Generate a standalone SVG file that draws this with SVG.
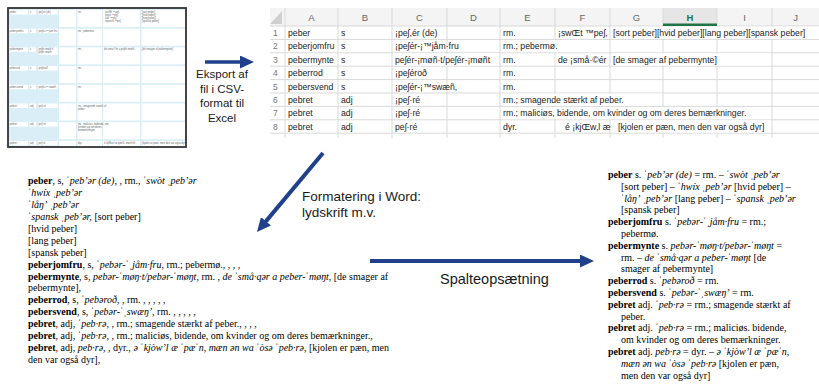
<svg xmlns="http://www.w3.org/2000/svg" width="819" height="387" viewBox="0 0 819 387">
<style>
.sans{font-family:"Liberation Sans",Arial,sans-serif}
.lbl{font-family:"Liberation Sans",Arial,sans-serif;fill:#1a1a1a}
.ser{font-family:"Liberation Serif","Times New Roman","DejaVu Serif",serif;font-size:10px;fill:#000}
.b{font-weight:bold}
.i{font-style:italic}
.cell{font-family:"Liberation Sans",Arial,sans-serif;font-size:8.7px;fill:#222}
.hdr{font-family:"Liberation Sans",Arial,sans-serif;font-size:9.5px;fill:#666;text-anchor:middle}
.rn{font-family:"Liberation Sans",Arial,sans-serif;font-size:8.5px;fill:#777}
.grid{stroke:#d9d9d9;stroke-width:1;fill:none}
.tiny{font-family:"Liberation Sans",Arial,sans-serif;font-size:2.6px;fill:#666}
.wb{fill:#fff}
.conn{stroke:#20408c;fill:none;marker-end:url(#ah)}
</style>
<defs>
<marker id="ah" viewBox="0 0 14 13" markerUnits="userSpaceOnUse" markerWidth="14" markerHeight="13" refX="3" refY="6.5" orient="auto">
<path d="M0,0 L14,6.5 L0,13 z" fill="#20408c"/>
</marker>
</defs>
<rect width="819" height="387" fill="#fff"/>

<!-- Thumbnail of the Word table -->
<g id="thumbnail">
<rect x="8" y="8" width="178" height="139" fill="#d9eef6" stroke="#3a3a3a" stroke-width="1.5"/>
<g id="thumb-cells">
<!-- row tops: 10, 28.7, 47.4, 66.1, 84.8, 103.5, 122.2, 140.9 -->
<g transform="translate(0,10)">
<rect class="wb" x="9" y="0" width="19" height="4.5"/><rect class="wb" x="29.5" y="0" width="6.5" height="4.5"/><rect class="wb" x="38" y="0" width="19.5" height="4.5"/>
<rect class="wb" x="59" y="0" width="17" height="17"/><rect class="wb" x="77.5" y="0" width="24.5" height="17"/><rect class="wb" x="103" y="0" width="37" height="17"/><rect class="wb" x="141.5" y="0" width="43.5" height="17"/>
<text class="tiny" x="9.5" y="3">peber</text><text class="tiny" x="30" y="3">s</text><text class="tiny" x="38.5" y="3">ipeʃ,ér (de)</text><text class="tiny" x="78" y="3">rm.</text>
<text class="tiny" x="105" y="3">iswŒt ™peʃ,</text><text class="tiny" x="105" y="6">ihwíx ™peʃ,</text><text class="tiny" x="105" y="9">ilåñ' ™peʃ,</text><text class="tiny" x="105" y="12">ispansk ™peʃ,</text>
<text class="tiny" x="142" y="3">[sort peber]</text><text class="tiny" x="142" y="6">[hvid peber]</text><text class="tiny" x="142" y="9">[lang peber]</text><text class="tiny" x="142" y="12">[spansk peber]</text>
</g>
<g transform="translate(0,28.7)">
<rect class="wb" x="9" y="0" width="19" height="4.5"/><rect class="wb" x="29.5" y="0" width="6.5" height="4.5"/><rect class="wb" x="38" y="0" width="19.5" height="4.5"/>
<rect class="wb" x="59" y="0" width="17" height="17"/><rect class="wb" x="77.5" y="0" width="24.5" height="17"/><rect class="wb" x="103" y="0" width="37" height="17"/><rect class="wb" x="141.5" y="0" width="43.5" height="17"/>
<text class="tiny" x="9.5" y="3">peberjomfru</text><text class="tiny" x="30" y="3">s</text><text class="tiny" x="38.5" y="3">ipeʃér-i™jåm·fru</text><text class="tiny" x="78" y="3">rm.; pebermø.</text>
</g>
<g transform="translate(0,47.4)">
<rect class="wb" x="9" y="0" width="19" height="4.5"/><rect class="wb" x="29.5" y="0" width="6.5" height="4.5"/><rect class="wb" x="38" y="0" width="19.5" height="7.5"/>
<rect class="wb" x="59" y="0" width="17" height="17"/><rect class="wb" x="77.5" y="0" width="24.5" height="17"/><rect class="wb" x="103" y="0" width="37" height="17"/><rect class="wb" x="141.5" y="0" width="43.5" height="17"/>
<text class="tiny" x="9.5" y="3">pebermynte</text><text class="tiny" x="30" y="3">s</text><text class="tiny" x="38.5" y="3">peʃér-imøñ·t/</text><text class="tiny" x="38.5" y="6">peʃér-imøñt</text><text class="tiny" x="78" y="3">rm.</text>
<text class="tiny" x="104" y="3">de ismå·©ér a peʃér-imøñt</text><text class="tiny" x="142" y="3">[de smager af pebermynte]</text>
</g>
<g transform="translate(0,66.1)">
<rect class="wb" x="9" y="0" width="19" height="4.5"/><rect class="wb" x="29.5" y="0" width="6.5" height="4.5"/><rect class="wb" x="38" y="0" width="19.5" height="4.5"/>
<rect class="wb" x="59" y="0" width="17" height="17"/><rect class="wb" x="77.5" y="0" width="24.5" height="17"/><rect class="wb" x="103" y="0" width="37" height="17"/><rect class="wb" x="141.5" y="0" width="43.5" height="17"/>
<text class="tiny" x="9.5" y="3">peberrod</text><text class="tiny" x="30" y="3">s</text><text class="tiny" x="38.5" y="3">ipeʃéroð</text><text class="tiny" x="78" y="3">rm.</text>
</g>
<g transform="translate(0,84.8)">
<rect class="wb" x="9" y="0" width="19" height="4.5"/><rect class="wb" x="29.5" y="0" width="6.5" height="4.5"/><rect class="wb" x="38" y="0" width="19.5" height="4.5"/>
<rect class="wb" x="59" y="0" width="17" height="17"/><rect class="wb" x="77.5" y="0" width="24.5" height="17"/><rect class="wb" x="103" y="0" width="37" height="17"/><rect class="wb" x="141.5" y="0" width="43.5" height="17"/>
<text class="tiny" x="9.5" y="3">pebersvend</text><text class="tiny" x="30" y="3">s</text><text class="tiny" x="38.5" y="3">ipeʃér-i™swæñ,</text><text class="tiny" x="78" y="3">rm.</text>
</g>
<g transform="translate(0,103.5)">
<rect class="wb" x="9" y="0" width="19" height="4.5"/><rect class="wb" x="29.5" y="0" width="6.5" height="4.5"/><rect class="wb" x="38" y="0" width="19.5" height="4.5"/>
<rect class="wb" x="59" y="0" width="17" height="17"/><rect class="wb" x="77.5" y="0" width="24.5" height="17"/><rect class="wb" x="103" y="0" width="37" height="17"/><rect class="wb" x="141.5" y="0" width="43.5" height="17"/>
<text class="tiny" x="9.5" y="3">pebret</text><text class="tiny" x="30" y="3">adj</text><text class="tiny" x="38.5" y="3">ipeʃ·ré</text><text class="tiny" x="78" y="3">rm.; smagende stærkt af</text><text class="tiny" x="78" y="6">peber.</text>
</g>
<g transform="translate(0,122.2)">
<rect class="wb" x="9" y="0" width="19" height="4.5"/><rect class="wb" x="29.5" y="0" width="6.5" height="4.5"/><rect class="wb" x="38" y="0" width="19.5" height="4.5"/>
<rect class="wb" x="59" y="0" width="17" height="17"/><rect class="wb" x="77.5" y="0" width="24.5" height="17"/><rect class="wb" x="103" y="0" width="37" height="17"/><rect class="wb" x="141.5" y="0" width="43.5" height="17"/>
<text class="tiny" x="9.5" y="3">pebret</text><text class="tiny" x="30" y="3">adj</text><text class="tiny" x="38.5" y="3">ipeʃ·ré</text><text class="tiny" x="78" y="3">rm.; maliciøs, bidende, om</text><text class="tiny" x="78" y="6">kvinder og om deres</text><text class="tiny" x="78" y="9">bemærkninger.</text>
</g>
<g transform="translate(0,140.9)">
<rect class="wb" x="9" y="0" width="19" height="4.5"/><rect class="wb" x="29.5" y="0" width="6.5" height="4.5"/><rect class="wb" x="38" y="0" width="19.5" height="4.5"/>
<rect class="wb" x="59" y="0" width="17" height="5.3"/><rect class="wb" x="77.5" y="0" width="24.5" height="5.3"/><rect class="wb" x="103" y="0" width="37" height="5.3"/><rect class="wb" x="141.5" y="0" width="43.5" height="5.3"/>
<text class="tiny" x="9.5" y="3">pebret</text><text class="tiny" x="30" y="3">adj</text><text class="tiny" x="38.5" y="3">peʃ·ré</text><text class="tiny" x="78" y="3">dyr.</text>
<text class="tiny" x="104" y="3">é ikjŒw,l æ ipæ'ñ, mæñ éñ</text><text class="tiny" x="142" y="3">[kjolen er pæn, men den var også dyr]</text>
</g>
</g>
<rect x="8" y="8" width="178" height="139" fill="none" stroke="#3a3a3a" stroke-width="1.5"/>
</g>

<!-- Spreadsheet -->
<g id="spreadsheet">
<rect x="270" y="8" width="549" height="18" fill="#f4f4f4"/>
<rect x="663" y="8" width="54" height="18" fill="#e6e6e6"/>
<polygon points="282,11 282,24 270,24" fill="#d0d0d0"/>
<g class="grid">
<path d="M270,26 H819 M270,39.4 H819 M270,52.8 H819 M270,66.2 H819 M270,79.6 H819 M270,93 H819 M270,106.4 H819 M270,119.8 H819 M270,133.2 H819"/>
<path d="M285,8 V138 M338,8 V138 M392,8 V138 M447,8 V138 M500,8 V138 M555,8 V138 M610,8 V138 M663,8 V138 M717,8 V138 M772,8 V138"/>
</g>
<rect x="663" y="23.5" width="54" height="2.5" fill="#217346"/>
<g id="overflow-masks" fill="#fff">
<rect x="611" y="26.6" width="208" height="12.2"/>
<rect x="501" y="40" width="108" height="12.2"/>
<rect x="393" y="53.4" width="106" height="12.2"/>
<rect x="611" y="53.4" width="160" height="12.2"/>
<rect x="501" y="93.6" width="161" height="12.2"/>
<rect x="501" y="107" width="270" height="12.2"/>
<rect x="611" y="120.4" width="160" height="12.2"/>
</g>
<g id="col-headers">
<text class="hdr" x="311.5" y="20.5">A</text>
<text class="hdr" x="365" y="20.5">B</text>
<text class="hdr" x="419.5" y="20.5">C</text>
<text class="hdr" x="473.5" y="20.5">D</text>
<text class="hdr" x="527.5" y="20.5">E</text>
<text class="hdr" x="582.5" y="20.5">F</text>
<text class="hdr" x="636.5" y="20.5">G</text>
<text class="hdr" x="690" y="20.5" style="fill:#217346;font-weight:bold">H</text>
<text class="hdr" x="744.5" y="20.5">I</text>
<text class="hdr" x="795.5" y="20.5">J</text>
</g>
<g id="row-numbers">
<text class="rn" x="273" y="36">1</text>
<text class="rn" x="273" y="49.4">2</text>
<text class="rn" x="273" y="62.8">3</text>
<text class="rn" x="273" y="76.2">4</text>
<text class="rn" x="273" y="89.6">5</text>
<text class="rn" x="273" y="103">6</text>
<text class="rn" x="273" y="116.4">7</text>
<text class="rn" x="273" y="129.8">8</text>
</g>
<g id="cells">
<text class="cell" x="288" y="36">peber</text><text class="cell" x="341" y="36">s</text><text class="cell" x="395" y="36">¡peʃ,ér (de)</text><text class="cell" x="503" y="36">rm.</text><text class="cell" x="558" y="36">¡swŒt ™peʃ,</text><text class="cell" x="613" y="36">[sort peber][hvid peber][lang peber][spansk peber]</text>
<text class="cell" x="288" y="49.4">peberjomfru</text><text class="cell" x="341" y="49.4">s</text><text class="cell" x="395" y="49.4">¡peʃér-¡™jåm·fru</text><text class="cell" x="503" y="49.4">rm.; pebermø.</text>
<text class="cell" x="288" y="62.8">pebermynte</text><text class="cell" x="341" y="62.8">s</text><text class="cell" x="395" y="62.8">peʃér-¡møñ·t/peʃér-¡møñt</text><text class="cell" x="503" y="62.8">rm.</text><text class="cell" x="558" y="62.8">de ¡små·©ér</text><text class="cell" x="613" y="62.8">[de smager af pebermynte]</text>
<text class="cell" x="288" y="76.2">peberrod</text><text class="cell" x="341" y="76.2">s</text><text class="cell" x="395" y="76.2">¡peʃéroð</text><text class="cell" x="503" y="76.2">rm.</text>
<text class="cell" x="288" y="89.6">pebersvend</text><text class="cell" x="341" y="89.6">s</text><text class="cell" x="395" y="89.6">¡peʃér-¡™swæñ,</text><text class="cell" x="503" y="89.6">rm.</text>
<text class="cell" x="288" y="103">pebret</text><text class="cell" x="341" y="103">adj</text><text class="cell" x="395" y="103">¡peʃ·ré</text><text class="cell" x="503" y="103">rm.; smagende stærkt af peber.</text>
<text class="cell" x="288" y="116.4">pebret</text><text class="cell" x="341" y="116.4">adj</text><text class="cell" x="395" y="116.4">¡peʃ·ré</text><text class="cell" x="503" y="116.4">rm.; maliciøs, bidende, om kvinder og om deres bemærkninger.</text>
<text class="cell" x="288" y="129.8">pebret</text><text class="cell" x="341" y="129.8">adj</text><text class="cell" x="395" y="129.8">peʃ·ré</text><text class="cell" x="503" y="129.8">dyr.</text><text class="cell" x="565" y="129.8">é ¡kjŒw,l æ</text><text class="cell" x="618" y="129.8">[kjolen er pæn, men den var også dyr]</text>
</g>
</g>

<!-- Word formatted text -->
<g id="word-text">
<text class="ser" x="28" y="184"><tspan class="b">peber</tspan>, s, <tspan class="i">ˈpebʼər (de)</tspan>, , rm., <tspan class="i">ˈswòt ˌpebʼər</tspan></text>
<text class="ser i" x="28" y="195.9">ˈhwíx ˌpebʼər</text>
<text class="ser i" x="28" y="207.9">ˈlåŋʼ ˌpebʼər</text>
<text class="ser" x="28" y="219.8"><tspan class="i">ˈspansk ˌpebʼər,</tspan> [sort peber]</text>
<text class="ser" x="28" y="231.7">[hvid peber]</text>
<text class="ser" x="28" y="243.7">[lang peber]</text>
<text class="ser" x="28" y="255.6">[spansk peber]</text>
<text class="ser" x="28" y="267.5"><tspan class="b">peberjomfru</tspan>, s, <tspan class="i">ˈpebər-ˈˌjåm·fru</tspan>, rm.; pebermø., , , ,</text>
<text class="ser" x="28" y="279.5"><tspan class="b">pebermynte</tspan>, s, <tspan class="i">pebər-ˈmøŋ·t/pebər-ˈmøŋt</tspan>, rm. , <tspan class="i">de ˈsmå·qər a peber-ˈmøŋt</tspan>, [de smager af</text>
<text class="ser" x="28" y="291.4">pebermynte],</text>
<text class="ser" x="28" y="303.3"><tspan class="b">peberrod</tspan>, s, <tspan class="i">ˈpebəroð</tspan>, , rm. , , , , ,</text>
<text class="ser" x="28" y="315.3"><tspan class="b">pebersvend</tspan>, s, <tspan class="i">ˈpebər-ˈˌswæŋʼ</tspan>, rm. , , , , ,</text>
<text class="ser" x="28" y="327.2"><tspan class="b">pebret</tspan>, adj, <tspan class="i">ˈpeb·rə</tspan>, , rm.; smagende stærkt af peber., , , ,</text>
<text class="ser" x="28" y="339.1"><tspan class="b">pebret</tspan>, adj, <tspan class="i">ˈpeb·rə</tspan>, , rm.; maliciøs, bidende, om kvinder og om deres bemærkninger.,</text>
<text class="ser" x="28" y="351.1"><tspan class="b">pebret</tspan>, adj, <tspan class="i">peb·rə</tspan>, , dyr., <tspan class="i">ə ˈkjòwʼl æ ˈpæˈn, mæn ən wa ˈòsə ˈpeb·rə</tspan>, [kjolen er pæn, men</text>
<text class="ser" x="28" y="363">den var også dyr],</text>
</g>

<!-- Column layout text -->
<g id="column-text">
<text class="ser" x="608" y="178"><tspan class="b">peber</tspan> s. <tspan class="i">ˈpebʼər (de)</tspan> = rm. – <tspan class="i">ˈswòt ˌpebʼər</tspan></text>
<text class="ser" x="621" y="189.8">[sort peber] – <tspan class="i">ˈhwíx ˌpebʼər</tspan> [hvid peber] –</text>
<text class="ser" x="621" y="201.6"><tspan class="i">ˈlåŋʼ ˌpebʼər</tspan> [lang peber] – <tspan class="i">ˈspansk ˌpebʼər</tspan></text>
<text class="ser" x="621" y="213.4">[spansk peber]</text>
<text class="ser" x="608" y="225.2"><tspan class="b">peberjomfru</tspan> s. <tspan class="i">ˈpebər-ˈˌjåm·fru</tspan> = rm.;</text>
<text class="ser" x="621" y="237">pebermø.</text>
<text class="ser" x="608" y="248.8"><tspan class="b">pebermynte</tspan> s. <tspan class="i">pebər-ˈmøŋ·t/pebər-ˈmøŋt</tspan> =</text>
<text class="ser" x="621" y="260.6">rm. – <tspan class="i">de ˈsmå·qər a peber-ˈmøŋt</tspan> [de</text>
<text class="ser" x="621" y="272.4">smager af pebermynte]</text>
<text class="ser" x="608" y="284.2"><tspan class="b">peberrod</tspan> s. <tspan class="i">ˈpebəroð</tspan> = rm.</text>
<text class="ser" x="608" y="296"><tspan class="b">pebersvend</tspan> s. <tspan class="i">ˈpebər-ˈˌswæŋʼ</tspan> = rm.</text>
<text class="ser" x="608" y="307.8"><tspan class="b">pebret</tspan> adj. <tspan class="i">ˈpeb·rə</tspan> = rm.; smagende stærkt af</text>
<text class="ser" x="621" y="319.6">peber.</text>
<text class="ser" x="608" y="331.4"><tspan class="b">pebret</tspan> adj. <tspan class="i">ˈpeb·rə</tspan> = rm.; maliciøs. bidende,</text>
<text class="ser" x="621" y="343.2">om kvinder og om deres bemærkninger.</text>
<text class="ser" x="608" y="355"><tspan class="b">pebret</tspan> adj. <tspan class="i">peb·rə</tspan> = dyr. – <tspan class="i">ə ˈkjòwʼl æ ˈpæˈn,</tspan></text>
<text class="ser" x="621" y="366.8"><tspan class="i">mæn ən wa ˈòsə ˈpeb·rə</tspan> [kjolen er pæn,</text>
<text class="ser" x="621" y="378.6">men den var også dyr]</text>
</g>

<!-- Step labels -->
<g id="labels">
<text class="lbl" font-size="11.5" text-anchor="middle"><tspan x="222" y="78">Eksport af</tspan><tspan x="222" y="92.7">fil i CSV-</tspan><tspan x="222" y="107.4">format til</tspan><tspan x="222" y="122.1">Excel</tspan></text>
<text class="lbl" font-size="13.5"><tspan x="302" y="201">Formatering i Word:</tspan><tspan x="302" y="217">lydskrift m.v.</tspan></text>
<text class="lbl" font-size="14.5" x="440" y="284">Spalteopsætning</text>
</g>

<!-- Connectors -->
<g id="connectors">
<path class="conn" d="M205,62 H243" stroke-width="3.5"/>
<path class="conn" d="M323,153 L264,223.6" stroke-width="4"/>
<path class="conn" d="M370,261 H583" stroke-width="4"/>
</g>
</svg>
